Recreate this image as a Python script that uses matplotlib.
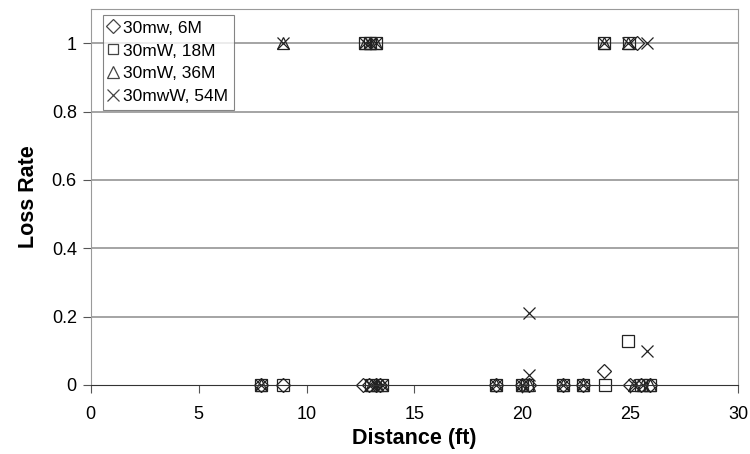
import matplotlib
matplotlib.use("Agg")
import matplotlib.pyplot as plt

plt.rcParams['font.family'] = ['Liberation Sans', 'DejaVu Sans']

# series: 30mw 6M (diamond)
d6_x = [7.9, 8.9, 12.6, 12.9, 13.2, 13.4, 18.8, 20.0, 20.3, 21.9, 22.8, 23.8, 25.0, 25.3, 25.5, 25.9]
d6_y = [0, 0, 0, 0, 0, 0, 0, 0, 0, 0, 0, 0.04, 0, 1, 0, 0]

# 30mW 18M (square)
d18_x = [7.9, 8.9, 12.7, 12.95, 13.2, 13.0, 13.5, 18.8, 20.0, 20.2, 21.9, 22.8, 23.8, 23.85, 24.9, 24.95, 25.5, 25.9]
d18_y = [0, 0, 1, 1, 1, 0, 0, 0, 0, 0, 0, 0, 1, 0, 0.13, 1, 0, 0]

# 30mW 36M (triangle)
d36_x = [7.9, 8.9, 12.7, 12.95, 13.2, 13.0, 13.25, 13.5, 18.8, 20.0, 20.3, 21.9, 22.8, 23.8, 24.9, 25.2, 25.6, 25.9]
d36_y = [0, 1, 1, 1, 1, 0, 0, 0, 0, 0, 0, 0, 0, 1, 1, 0, 0, 0]

# 30mwW 54M (x)
d54_x = [7.9, 8.9, 12.7, 12.95, 13.2, 13.0, 13.25, 13.5, 18.8, 20.0, 20.3, 20.3, 21.9, 22.8, 23.8, 24.9, 25.8, 25.2, 25.6, 25.8]
d54_y = [0, 1, 1, 1, 1, 0, 0, 0, 0, 0, 0.21, 0.03, 0, 0, 1, 1, 1, 0, 0, 0.10]

labels = ['30mw, 6M', '30mW, 18M', '30mW, 36M', '30mwW, 54M']

fig = plt.figure(figsize=(7.5, 4.54), dpi=100)
ax = fig.add_axes([0.121, 0.152, 0.863, 0.828])

mk = dict(linestyle='none', markerfacecolor='none', markeredgecolor='#222222',
          markeredgewidth=0.9, clip_on=False)
ax.plot(d6_x, d6_y, marker='D', markersize=7, label=labels[0], **mk)
ax.plot(d18_x, d18_y, marker='s', markersize=8, label=labels[1], **mk)
ax.plot(d36_x, d36_y, marker='^', markersize=8.5, label=labels[2], **mk)
ax.plot(d54_x, d54_y, marker='x', markersize=8.5, label=labels[3], **mk)

ax.set_xlim(0, 30)
ax.set_ylim(0, 1.1)
ax.set_xticks(range(0, 31, 5))
ax.set_yticks([0, 0.2, 0.4, 0.6, 0.8, 1])
ax.set_yticklabels(['0', '0.2', '0.4', '0.6', '0.8', '1'])
for y in [0.2, 0.4, 0.6, 0.8, 1.0]:
    ax.axhline(y, color='#8c8c8c', linewidth=1.1, zorder=0)

for s in ['left', 'top', 'right']:
    ax.spines[s].set_color('#9a9a9a')
ax.spines['bottom'].set_color('#333333')
ax.tick_params(axis='x', direction='out', length=6, color='#555555', labelsize=13, pad=9)
ax.tick_params(axis='y', direction='out', length=6, color='#555555', labelsize=13, pad=4)

ax.set_xlabel('Distance (ft)', fontsize=15.5, fontweight='bold', labelpad=4)
ax.set_ylabel('Loss Rate', fontsize=15.5, fontweight='bold', labelpad=9)

leg = ax.legend(loc='upper left', bbox_to_anchor=(0.013, 0.993), fontsize=12.5,
                frameon=True, fancybox=False, edgecolor='#666666',
                handlelength=0.6, handletextpad=0.3, borderpad=0.3,
                labelspacing=0.45, borderaxespad=0.2, markerscale=0.95)
leg.get_frame().set_linewidth(0.8)
for h in leg.legend_handles:
    h.set_markeredgecolor('#444444')

fig.savefig('out.png', dpi=100)
